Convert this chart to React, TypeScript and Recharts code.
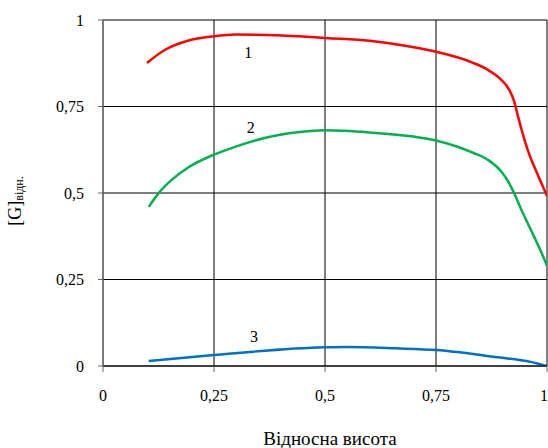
import { LineChart, Line, XAxis, YAxis, CartesianGrid, ReferenceDot, Label } from "recharts";

// curve 1 (red)
const redX = [0.099, 0.14, 0.191, 0.25, 0.299, 0.371, 0.443, 0.5, 0.6, 0.7, 0.75, 0.832, 0.868, 0.897, 0.915, 0.926, 0.933, 0.944, 0.958, 0.976, 1.0];
const redY = [0.876, 0.914, 0.94, 0.953, 0.958, 0.957, 0.953, 0.948, 0.94, 0.921, 0.908, 0.877, 0.855, 0.827, 0.798, 0.765, 0.73, 0.677, 0.619, 0.562, 0.492];

// curve 2 (green)
const greenX = [0.103, 0.125, 0.154, 0.191, 0.25, 0.299, 0.371, 0.443, 0.5, 0.6, 0.7, 0.75, 0.8, 0.832, 0.868, 0.897, 0.915, 0.926, 0.941, 0.963, 0.985, 1.0];
const greenY = [0.46, 0.499, 0.537, 0.573, 0.611, 0.634, 0.661, 0.676, 0.681, 0.675, 0.663, 0.652, 0.633, 0.617, 0.595, 0.562, 0.528, 0.499, 0.455, 0.395, 0.335, 0.29];

// curve 3 (blue)
const blueX = [0.103, 0.25, 0.5, 0.55, 0.66, 0.75, 0.89, 0.963, 1.0];
const blueY = [0.0145, 0.032, 0.054, 0.055, 0.051, 0.046, 0.025, 0.012, 0];

const xTicks = [0, 0.25, 0.5, 0.75, 1];
const yTicks = [0, 0.25, 0.5, 0.75, 1];

const curveNames = ["1", "2", "3"];
const curveLabelX = [0.327, 0.333, 0.34];
const curveLabelY = [0.908, 0.69, 0.087];

const FONT = "Liberation Serif, Times New Roman, serif";

const toPoints = (xs: number[], ys: number[]) => xs.map((x, i) => ({ x, y: ys[i] }));

const redData = toPoints(redX, redY);
const greenData = toPoints(greenX, greenY);
const blueData = toPoints(blueX, blueY);

const fmt = (v: number) => String(v).replace(".", ",");

export default function App() {
  return (
    <div style={{ position: "fixed", left: 0, top: 0, width: 548, height: 448, background: "#fff" }}>
      <LineChart width={548} height={448} margin={{ top: 20, right: 1, bottom: 0, left: 0 }}>
        <CartesianGrid stroke="#000" strokeWidth={1} vertical={{ stroke: "#555" }} />
        <XAxis
          type="number"
          dataKey="x"
          domain={[0, 1]}
          ticks={xTicks}
          tickFormatter={fmt}
          height={82}
          axisLine={{ stroke: "#000" }}
          tickLine={{ stroke: "#666" }}
          tickSize={6}
          tickMargin={18}
          tick={{ fill: "#000", fontSize: 16, fontFamily: FONT }}
          allowDataOverflow
        >
          <Label
            content={({ viewBox }: any) => (
              <text
                x={viewBox.x + viewBox.width / 2 + 5}
                y={viewBox.y + 79}
                textAnchor="middle"
                fontSize={19}
                fontFamily={FONT}
                fill="#000"
              >
                Відносна висота
              </text>
            )}
          />
        </XAxis>
        <YAxis
          type="number"
          domain={[0, 1]}
          ticks={yTicks}
          tickFormatter={fmt}
          width={103}
          axisLine={{ stroke: "#777" }}
          tickLine={{ stroke: "#666" }}
          tickSize={5}
          tickMargin={14}
          tick={{ fill: "#000", fontSize: 16, fontFamily: FONT }}
          allowDataOverflow
        >
          <Label
            content={({ viewBox }: any) => {
              const cx = viewBox.x + 21;
              const cy = viewBox.y + viewBox.height / 2 + 8;
              return (
                <text
                  x={cx}
                  y={cy}
                  transform={`rotate(-90, ${cx}, ${cy})`}
                  textAnchor="middle"
                  fontSize={18}
                  fontFamily={FONT}
                  fill="#000"
                >
                  [G]
                  <tspan fontSize={12} dy={2}>відн.</tspan>
                </text>
              );
            }}
          />
        </YAxis>
        <Line data={redData} dataKey="y" type="monotone" stroke="#ff0000" strokeWidth={2.5} dot={false} isAnimationActive={false} />
        <Line data={greenData} dataKey="y" type="monotone" stroke="#00b050" strokeWidth={2.5} dot={false} isAnimationActive={false} />
        <Line data={blueData} dataKey="y" type="monotone" stroke="#0070c0" strokeWidth={2.5} dot={false} isAnimationActive={false} />
        {curveNames.map((n, i) => (
          <ReferenceDot
            key={n}
            x={curveLabelX[i]}
            y={curveLabelY[i]}
            r={0}
            stroke="none"
            fill="none"
            label={{ value: n, position: "center", fontSize: 16, fontFamily: FONT, fill: "#000" }}
          />
        ))}
      </LineChart>
    </div>
  );
}
